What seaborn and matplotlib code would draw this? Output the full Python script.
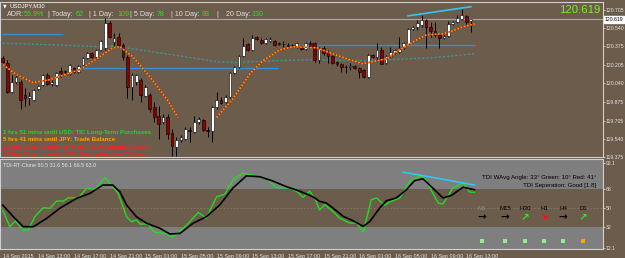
import matplotlib
matplotlib.use("Agg")
import matplotlib.pyplot as plt
import matplotlib.transforms as mtrans
from matplotlib.patches import Rectangle
import pandas as pd
import seaborn as sns

# USDJPY M30, bar 0 = 14 Sep 09:00
opens = [120.273, 120.228, 119.967, 120.057, 120.057, 119.940, 119.913, 119.895, 119.994, 120.030,
         120.120, 120.039, 120.030, 120.156, 120.156, 120.129, 120.183, 120.147, 120.210, 120.273,
         120.318, 120.282, 120.345, 120.363, 120.588, 120.417, 120.462, 120.390, 120.282, 120.012,
         120.057, 120.075, 119.931, 119.940, 119.823, 119.742, 119.688, 119.733, 119.589, 119.463,
         119.526, 119.535, 119.616, 119.598, 119.688, 119.706, 119.616, 119.607, 119.823, 119.895,
         119.868, 119.922, 120.138, 120.192, 120.291, 120.399, 120.345, 120.462, 120.435, 120.408,
         120.426, 120.426, 120.408, 120.399, 120.390, 120.390, 120.372, 120.372, 120.354, 120.408,
         120.408, 120.255, 120.363, 120.327, 120.291, 120.237, 120.219, 120.192, 120.192, 120.201,
         120.183, 120.165, 120.102, 120.300, 120.282, 120.345, 120.228, 120.291, 120.318, 120.327,
         120.363, 120.399, 120.534, 120.552, 120.570, 120.615, 120.552, 120.516, 120.480, 120.453,
         120.471, 120.579, 120.597, 120.624, 120.651, 120.606]
highs = [120.291, 120.255, 120.120, 120.120, 120.075, 120.003, 119.967, 119.994, 120.030, 120.129,
         120.138, 120.075, 120.147, 120.192, 120.165, 120.219, 120.192, 120.210, 120.282, 120.327,
         120.327, 120.354, 120.435, 120.633, 120.606, 120.498, 120.498, 120.408, 120.300, 120.138,
         120.129, 120.093, 120.030, 119.958, 119.868, 119.832, 119.760, 119.760, 119.625, 119.553,
         119.571, 119.643, 119.643, 119.742, 119.733, 119.715, 119.643, 119.832, 119.967, 119.922,
         119.940, 120.147, 120.201, 120.300, 120.453, 120.408, 120.480, 120.471, 120.453, 120.453,
         120.462, 120.435, 120.417, 120.426, 120.408, 120.399, 120.417, 120.390, 120.417, 120.426,
         120.417, 120.372, 120.381, 120.345, 120.300, 120.246, 120.228, 120.210, 120.228, 120.210,
         120.192, 120.174, 120.309, 120.309, 120.408, 120.372, 120.300, 120.372, 120.354, 120.462,
         120.417, 120.543, 120.561, 120.615, 120.660, 120.624, 120.597, 120.597, 120.498, 120.480,
         120.606, 120.606, 120.660, 120.714, 120.660, 120.615]
lows = [120.228, 119.958, 119.958, 120.039, 119.805, 119.832, 119.841, 119.886, 119.985, 120.021,
        120.030, 120.021, 120.021, 120.102, 120.129, 120.120, 120.138, 120.138, 120.201, 120.264,
        120.273, 120.273, 120.336, 120.345, 120.453, 120.381, 120.372, 120.255, 119.913, 119.895,
        120.030, 119.877, 119.922, 119.778, 119.688, 119.535, 119.670, 119.535, 119.382, 119.382,
        119.508, 119.526, 119.508, 119.589, 119.670, 119.607, 119.553, 119.508, 119.805, 119.850,
        119.859, 119.913, 120.129, 120.183, 120.282, 120.336, 120.336, 120.435, 120.399, 120.399,
        120.417, 120.381, 120.390, 120.372, 120.372, 120.381, 120.363, 120.345, 120.345, 120.381,
        120.237, 120.228, 120.300, 120.228, 120.219, 120.201, 120.147, 120.138, 120.165, 120.174,
        120.093, 120.093, 120.093, 120.273, 120.255, 120.219, 120.219, 120.282, 120.309, 120.318,
        120.354, 120.390, 120.525, 120.525, 120.552, 120.363, 120.462, 120.462, 120.363, 120.444,
        120.462, 120.570, 120.588, 120.615, 120.579, 120.507]
closes = [120.237, 119.967, 120.057, 120.102, 119.895, 119.913, 119.931, 119.985, 120.021, 120.120,
          120.039, 120.057, 120.138, 120.138, 120.147, 120.210, 120.147, 120.201, 120.273, 120.318,
          120.282, 120.345, 120.426, 120.588, 120.462, 120.453, 120.390, 120.282, 120.012, 120.120,
          120.120, 119.940, 120.012, 119.805, 119.733, 119.670, 119.733, 119.580, 119.472, 119.526,
          119.553, 119.625, 119.607, 119.688, 119.715, 119.616, 119.607, 119.823, 119.895, 119.859,
          119.922, 120.138, 120.192, 120.291, 120.381, 120.345, 120.453, 120.444, 120.408, 120.444,
          120.444, 120.390, 120.399, 120.396, 120.381, 120.387, 120.408, 120.354, 120.408, 120.381,
          120.255, 120.363, 120.318, 120.291, 120.228, 120.219, 120.192, 120.189, 120.201, 120.183,
          120.147, 120.102, 120.300, 120.282, 120.345, 120.219, 120.291, 120.327, 120.345, 120.363,
          120.408, 120.534, 120.552, 120.588, 120.615, 120.552, 120.516, 120.480, 120.453, 120.471,
          120.579, 120.597, 120.633, 120.660, 120.597, 120.619]

# orange moving average (two visible pieces)
ma1_x = [0.1, 3.1, 6.8, 10.6, 17.3, 21.8, 24.7, 26.3, 29.2, 33.0, 36.9, 39.3]
ma1_y = [120.210, 120.120, 120.048, 120.075, 120.165, 120.282, 120.363, 120.372, 120.282, 120.102, 119.895, 119.733]
ma2_x = [48.0, 51.7, 55.5, 58.4, 62.2, 65.1, 70.5, 73.4, 77.9, 80.8, 86.2, 89.1, 92.9, 95.1, 98.7, 101.0, 103.2, 105.9]
ma2_y = [119.733, 119.904, 120.129, 120.246, 120.345, 120.372, 120.363, 120.318, 120.255, 120.219, 120.264,
         120.345, 120.435, 120.480, 120.489, 120.516, 120.552, 120.579]
# slow green / purple average
slow_x = [0, 11.3, 21.8, 24.7, 29.2, 33.0, 40.4, 48.1, 52.5, 57.7, 62.9, 70.5, 81.7, 91.3, 96.5, 105.9]
slow_y = [120.404, 120.390, 120.372, 120.377, 120.354, 120.330, 120.285, 120.237, 120.231, 120.240, 120.249,
          120.255, 120.246, 120.264, 120.273, 120.309]

# horizontal levels (start bar, end bar, price)
levels = [(-0.2, 13.5, 120.489), (16.7, 61.8, 120.183), (65.8, 106.0, 120.390)]
trend_x = [90.9, 105.1]
trend_y = [120.651, 120.735]
bid = 120.619

# TDI pane
tdi_black_x = [0, 2.4, 4.6, 6.9, 9.9, 12.8, 16.6, 19.6, 22.5, 24.7, 26.3, 27.8, 30.0, 32.3, 35.3, 37.5, 39.8,
               42.7, 45.7, 48.7, 51.6, 54.7, 57.7, 60.6, 63.7, 66.7, 69.6, 71.1, 72.6, 74.1, 76.4, 78.6, 80.9,
               82.4, 84.6, 86.1, 88.3, 90.6, 92.4, 94.3, 96.5, 98.8, 100.7, 103.3, 105.9]
tdi_black_y = [52.6, 41.6, 32.2, 32.2, 40.1, 49.5, 58.9, 63.6, 71.4, 71.4, 65.1, 52.6, 41.6, 35.4, 30.7, 25.3,
               25.9, 35.4, 41.6, 52.6, 68.3, 80.1, 79.2, 75.2, 69.8, 65.5, 60.4, 56.1, 54.5, 49.8, 42.0, 37.8,
               32.5, 37.2, 49.8, 56.6, 59.2, 67.0, 75.5, 77.3, 68.6, 59.2, 61.7, 69.3, 67.0]
tdi_green_x = [0, 1.6, 2.8, 4.6, 5.7, 7.2, 9.1, 10.6, 12.1, 13.6, 14.7, 17.0, 18.8, 20.7, 22.9, 24.4, 25.9,
               27.8, 28.9, 30.0, 30.8, 32.6, 34.1, 36.4, 37.9, 39.0, 41.3, 43.9, 45.7, 48.0, 49.8, 51.7, 53.9,
               56.2, 59.2, 61.4, 64.4, 66.3, 67.4, 68.9, 70.0, 71.1, 72.3, 74.1, 75.6, 77.9, 79.4, 80.9, 82.7,
               83.9, 85.7, 86.8, 89.1, 91.3, 93.6, 94.7, 97.7, 98.8, 101.0, 103.3, 104.8, 105.9]
tdi_green_y = [47.9, 32.2, 37.5, 29.0, 29.0, 41.6, 50.0, 49.5, 56.3, 56.3, 59.4, 59.4, 68.3, 67.3, 78.3, 71.4,
               63.6, 41.6, 36.9, 38.5, 34.7, 34.7, 26.9, 25.9, 22.7, 25.3, 33.8, 45.7, 40.1, 60.4, 62.6, 76.1,
               82.4, 80.8, 77.0, 69.2, 68.3, 64.5, 59.8, 65.7, 58.9, 47.9, 52.9, 46.6, 40.3, 35.6, 35.6, 27.1,
               57.6, 59.2, 52.3, 55.4, 59.2, 74.9, 79.6, 78.0, 54.5, 53.5, 68.6, 73.3, 64.8, 64.5]
tdi_trend_x = [89.8, 105.9]
tdi_trend_y = [83.6, 71.4]

price_ticks = [120.705, 120.540, 120.375, 120.205, 120.040, 119.875, 119.705, 119.540, 119.375]
tdi_ticks = [92.1, 68, 50, 32, 12.1]
time_ticks = [0, 8, 16, 24, 32, 40, 48, 56, 64, 72, 80, 88, 96, 104]
time_labels = ["14 Sep 2015", "14 Sep 13:00", "14 Sep 17:00", "14 Sep 21:00", "15 Sep 01:00", "15 Sep 05:00",
               "15 Sep 09:00", "15 Sep 13:00", "15 Sep 17:00", "15 Sep 21:00", "16 Sep 01:00", "16 Sep 05:00",
               "16 Sep 09:00", "16 Sep 13:00"]

adr_parts = [("ADR:", "lab"), ("56.9%", "val"), ("| Today:", "lab"), ("62", "val"), ("| 1 Day:", "lab"),
             ("109", "val"), ("| 5 Day:", "lab"), ("78", "val"), ("| 10 Day:", "lab"), ("93", "val"),
             ("|", "lab"), ("20 Day:", "lab"), ("130", "val")]
adr_xpos = [7, 24, 48, 76, 89, 117, 130, 157, 171, 202, 216, 226, 252]

news = ["1 hrs 51 mins until USD: TIC Long-Term Purchases",
        "5 hrs 41 mins until JPY: Trade Balance",
        "12 hrs 26 mins until JPY: BOJ Gov Kuroda Speaks",
        "18 hrs 21 mins until USD: Unemployment Claims"]
news_colors = ["#33cc33", "#ffa500", "#ff2020", "#ff2020"]

tframes = ["M5", "M15", "H30", "H1", "H4", "D1"]
tf_arrows = ["→", "→", "↗", "↘", "→", "↗"]
tf_arrow_colors = ["black", "black", "#22ee22", "#ff1010", "black", "#22ee22"]
tf_box_colors = ["#90ee90", "#90ee90", "#90ee90", "#90ee90", "#90ee90", "#ffa500"]
tf_xpos = [482, 505, 525, 544, 563, 583]

sns.set_style("dark")
plt.rcParams['font.family'] = ['Liberation Sans', 'DejaVu Sans']

W, H = 625, 258
def fx(x):
    return x / W
def fy(y):
    return 1 - y / H

BG = '#6b5c4b'
PANE_GRAY = '#7f7f7f'
FRAME = '#d0d0d0'
TXT = '#e6e6e6'
AXFS = 3.7

fig = plt.figure(figsize=(6.25, 2.58), dpi=100, facecolor=BG)
ax = fig.add_axes([0, fy(157), fx(603), 155 / H])
ax2 = fig.add_axes([0, fy(249), fx(603), 90 / H])

for a in (ax, ax2):
    a.set_facecolor(BG)
    a.grid(False)
    a.set_xlim(-0.6, 134.7)
    for s in a.spines.values():
        s.set_color(FRAME)
        s.set_linewidth(0.8)
ax.set_ylim(119.382, 120.777)
ax2.set_ylim(11.2, 95.9)

# ---- price pane
ax.axhline(bid, color='#a8a8a8', lw=0.8, zorder=1)
for x0, x1, p in levels:
    ax.hlines(p, x0, x1, color='#2f8fe0', lw=1.0, zorder=2)

sns.lineplot(x=slow_x, y=slow_y, ax=ax, color='#8a3fb0', lw=1.0, zorder=2)
sns.lineplot(x=slow_x, y=slow_y, ax=ax, color='#22bb22', lw=1.0, linestyle=(0, (1.5, 1.5)), zorder=2)

df = pd.DataFrame({'o': opens, 'h': highs, 'l': lows, 'c': closes})
df['i'] = range(len(df))
up = df.c >= df.o
ax.vlines(df.i, df.l, df.h, color='black', lw=0.7, zorder=3)
ax.bar(df.i[up], (df.c - df.o)[up], bottom=df.o[up], width=0.62, color='white',
       edgecolor='black', lw=0.4, zorder=4)
ax.bar(df.i[~up], (df.o - df.c)[~up], bottom=df.c[~up], width=0.62, color='#8b0000',
       edgecolor='black', lw=0.4, zorder=4)

for mx, my in ((ma1_x, ma1_y), (ma2_x, ma2_y)):
    sns.lineplot(x=mx, y=my, ax=ax, color='#b03010', lw=1.1, zorder=5)
    sns.lineplot(x=mx, y=my, ax=ax, color='#ffa010', lw=1.1, linestyle=(0, (1, 1.2)), zorder=5)

sns.lineplot(x=trend_x, y=trend_y, ax=ax, color='#30c8f0', lw=1.2, zorder=5)

ax.yaxis.tick_right()
ax.set_yticks(price_ticks)
ax.set_yticklabels([f"{t:.3f}" for t in price_ticks])
ax.tick_params(axis='y', colors=FRAME, labelcolor=TXT, labelsize=AXFS, length=1.5, width=0.6, pad=0.5)
ax.set_xticks([])
ax.set_xlabel('')
ax.set_ylabel('')

blend = mtrans.blended_transform_factory(ax.transAxes, ax.transData)
ax.text(1.003, bid, f"{bid:.3f}", transform=blend, fontsize=AXFS, color='black', va='center', ha='left',
        bbox=dict(boxstyle='square,pad=0.2', fc='white', ec='white'), zorder=10, clip_on=False)

# ---- TDI pane
ax2.axhspan(68, 100, color=PANE_GRAY, lw=0, zorder=0)
ax2.axhspan(0, 32, color=PANE_GRAY, lw=0, zorder=0)
ax2.axhline(50, color='#8a7a68', lw=0.6, linestyle=(0, (2, 2)), zorder=1)
sns.lineplot(x=tdi_green_x, y=tdi_green_y, ax=ax2, color='#22dd22', lw=1.0, zorder=3)
sns.lineplot(x=tdi_black_x, y=tdi_black_y, ax=ax2, color='black', lw=1.2, zorder=4)
sns.lineplot(x=tdi_trend_x, y=tdi_trend_y, ax=ax2, color='#30c8f0', lw=1.2, zorder=5)

ax2.yaxis.tick_right()
ax2.set_yticks(tdi_ticks)
ax2.set_yticklabels(["92.1", "68", "50", "32", "12.1"])
ax2.tick_params(axis='y', colors=FRAME, labelcolor=TXT, labelsize=AXFS, length=1.5, width=0.6, pad=0.5)
ax2.set_xticks(time_ticks)
ax2.set_xticklabels(time_labels)
ax2.tick_params(axis='x', colors=FRAME, labelcolor=TXT, labelsize=3.9, length=2, width=0.6, pad=1.5)
for lab in ax2.get_xticklabels():
    lab.set_ha('left')
ax2.set_xlabel('')
ax2.set_ylabel('')

# ---- texts
fig.text(fx(3), fy(5.5), "▼", fontsize=3.5, color='white', va='center', family=['DejaVu Sans'])
fig.text(fx(10), fy(5.5), "USDJPY,M30", fontsize=4.2, color='white', va='center')
for (t, kind), x in zip(adr_parts, adr_xpos):
    fig.text(fx(x), fy(15), t, fontsize=5.1, va='center',
             color='#e0e0e0' if kind == "lab" else '#33dd33')
fig.text(fx(600), fy(10), f"{bid:.3f}", fontsize=8.2, color='#80f020', va='center', ha='right')

for k, (t, c) in enumerate(zip(news, news_colors)):
    fig.text(fx(3), fy(132.5 + 7.3 * k), t, fontsize=4.4, color=c, va='center', fontweight='bold')

fig.text(fx(3), fy(165.5), "TDI-RT-Clone 80.5 31.6 56.1 66.5 63.0", fontsize=3.9, color=TXT, va='center')
fig.text(fx(596), fy(177), "TDI WAvg Angle: 33° Green: 10° Red: 41°", fontsize=4.4, color='black',
         va='center', ha='right')
fig.text(fx(596), fy(186), "TDI Seperation: Good [1.8]", fontsize=4.4, color='black', va='center', ha='right')

for k, (tf, arr, ac, bc, x) in enumerate(zip(tframes, tf_arrows, tf_arrow_colors, tf_box_colors, tf_xpos)):
    fig.text(fx(x), fy(208), tf, fontsize=4.4, color='#8c8c8c' if k == 0 else 'black',
             va='center', ha='center')
    fig.text(fx(x), fy(217), arr, fontsize=7.5, color=ac, va='center', ha='center',
             fontweight='bold', family=['DejaVu Sans'])
    fig.add_artist(Rectangle((fx(x - 2.3), fy(243.3)), 4.6 / W, 4.6 / H, transform=fig.transFigure,
                             facecolor=bc, edgecolor='none'))

fig.savefig("out.png", dpi=100, facecolor=BG)
